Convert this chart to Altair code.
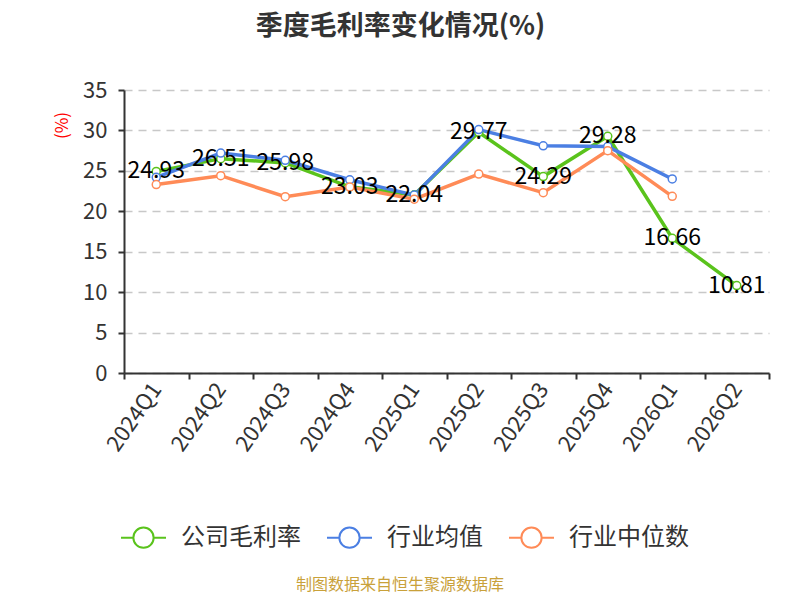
import altair as alt
import pandas as pd

quarters = ["2024Q1", "2024Q2", "2024Q3", "2024Q4", "2025Q1",
            "2025Q2", "2025Q3", "2025Q4", "2026Q1", "2026Q2"]
company = [24.93, 26.51, 25.98, 23.03, 22.04, 29.77, 24.29, 29.28, 16.66, 10.81]
industry_avg = [24.2, 27.2, 26.3, 23.9, 22.0, 30.1, 28.1, 28.0, 24.0, None]
industry_median = [23.3, 24.4, 21.8, 23.0, 21.5, 24.6, 22.3, 27.5, 21.85, None]

series_names = ["公司毛利率", "行业均值", "行业中位数"]
series_colors = ["#5ac31c", "#4b7fe3", "#ff8b57"]

rows = []
for name, vals in zip(series_names, [company, industry_avg, industry_median]):
    for q, v in zip(quarters, vals):
        if v is not None:
            rows.append({"quarter": q, "value": v, "series": name,
                         "label": f"{v:.2f}"})
df = pd.DataFrame(rows)

FONT = "Noto Sans CJK SC"

x_enc = alt.X("quarter:N", sort=quarters, title=None,
              scale=alt.Scale(domain=quarters, paddingInner=0, paddingOuter=0),
              axis=alt.Axis(labelAngle=-55, labelFontSize=22, labelColor="#333",
                            labelFont=FONT, labelAlign="right", labelBaseline="middle",
                            labelPadding=6, labelLimit=200,
                            tickBand="extent", domainColor="#333", domainWidth=2,
                            tickColor="#333", tickWidth=2, tickSize=6, grid=False))
y_enc = alt.Y("value:Q", scale=alt.Scale(domain=[0, 35], nice=False),
              axis=alt.Axis(values=[0, 5, 10, 15, 20, 25, 30, 35],
                            title="(%)", titleColor="red", titleFontSize=17,
                            titleFontWeight="normal", titleFont=FONT,
                            titleAngle=-90, titleX=-62, titleY=35,
                            titleAlign="center", titleBaseline="middle",
                            labelFontSize=22, labelColor="#333", labelFont=FONT,
                            labelPadding=11,
                            domainColor="#333", domainWidth=2,
                            tickColor="#333", tickWidth=2, tickSize=6,
                            grid=True, gridColor="#c8c8c8", gridDash=[8, 6],
                            gridWidth=1.5))

stroke_scale = alt.Scale(domain=series_names, range=series_colors)
stroke_enc = alt.Stroke("series:N", sort=series_names, scale=stroke_scale,
                        legend=alt.Legend(
                            title=None, orient="none", direction="horizontal",
                            legendX=-4, legendY=424,
                            symbolType="M-1,0L-0.45,0M0.45,0L1,0M0.45,0A0.45,0.45 0 1,1 -0.45,0A0.45,0.45 0 1,1 0.45,0",
                            symbolSize=2025, symbolStrokeWidth=2,
                            symbolFillColor="white",
                            labelFontSize=24, labelFont=FONT, labelColor="#333",
                            labelOffset=14, columnPadding=22, labelLimit=300))

base = alt.Chart(df).encode(x=x_enc, y=y_enc, stroke=stroke_enc,
                            detail="series:N")

lines = base.mark_line(strokeWidth=3.5)
points = base.mark_point(filled=True, fill="white", size=64, strokeWidth=1.5,
                         opacity=1)

labels = alt.Chart(df[df["series"] == "公司毛利率"]).mark_text(
    fontSize=23, font=FONT, color="black", align="center", baseline="middle"
).encode(x=alt.X("quarter:N", sort=quarters), y="value:Q", text="label:N")

footer = alt.Chart(pd.DataFrame({"t": ["制图数据来自恒生聚源数据库"]})).mark_text(
    fontSize=16, font=FONT, color="#c9a13a", align="center", baseline="middle"
).encode(text="t:N", x=alt.value(276), y=alt.value(495))

chart = alt.layer(lines, points, labels, footer).properties(
    width=645, height=283,
    title=alt.TitleParams("季度毛利率变化情况(%)", fontSize=27, font=FONT,
                          fontWeight="bold", color="#333", anchor="middle",
                          frame="group", offset=38, dx=-46),
    padding={"left": 116, "top": 82, "right": 23, "bottom": 222},
    autosize=alt.AutoSizeParams(type="none"),
).configure_view(stroke=None)

chart.save("out.html", embed_options={"renderer": "svg", "actions": False})
